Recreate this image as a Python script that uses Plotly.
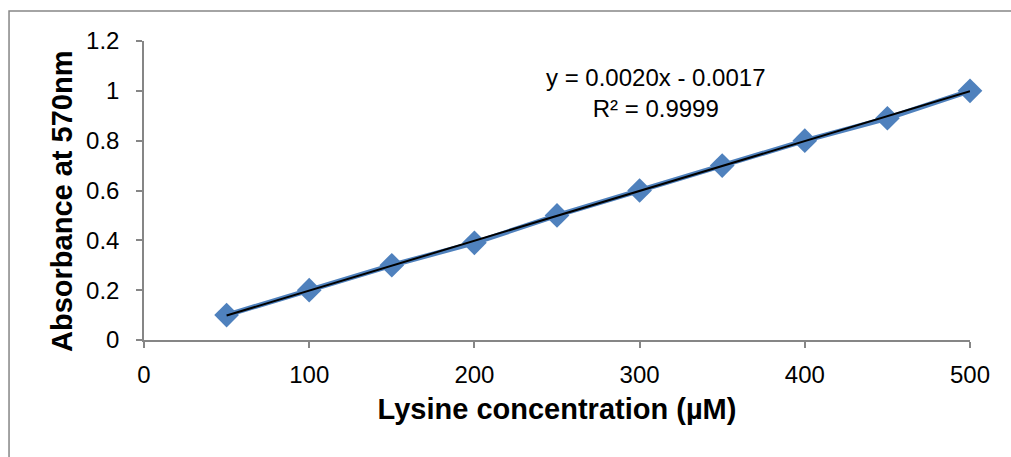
import plotly.graph_objects as go

# Lysine standard curve
concentration = [50, 100, 150, 200, 250, 300, 350, 400, 450, 500]
absorbance = [0.10, 0.20, 0.30, 0.39, 0.50, 0.60, 0.70, 0.80, 0.89, 1.00]

# Linear fit reported on the chart
slope = 0.0020
intercept = -0.0017
r_squared = 0.9999
fit_x = [min(concentration), max(concentration)]
fit_y = [slope * x + intercept for x in fit_x]

x_ticks = [0, 100, 200, 300, 400, 500]
y_ticks = [0, 0.2, 0.4, 0.6, 0.8, 1, 1.2]

FONT = "Liberation Sans, Arial, sans-serif"
AXIS_GREY = "#868686"
BLUE = "#4F81BD"

fig = go.Figure()
fig.add_trace(go.Scatter(
    x=concentration, y=absorbance, mode="lines+markers",
    line=dict(color=BLUE, width=5),
    marker=dict(symbol="diamond", size=19, color=BLUE),
    showlegend=False, cliponaxis=False,
))
fig.add_trace(go.Scatter(
    x=fit_x, y=fit_y, mode="lines",
    line=dict(color="black", width=2),
    showlegend=False, cliponaxis=False,
))

# trendline equation
fig.add_annotation(
    x=0.62, y=0.93, xref="paper", yref="paper",
    xanchor="center", yanchor="top",
    text=f"y = {slope:.4f}x - {abs(intercept):.4f}<br>R² = {r_squared:.4f}",
    showarrow=False, align="center",
    font=dict(family=FONT, size=24, color="black"),
)

# y-axis title, set as rotated text so it can sit slightly below the plot's middle
fig.add_annotation(
    x=-0.0993, y=0.465, xref="paper", yref="paper",
    xanchor="center", yanchor="middle", textangle=-90,
    text="<b>Absorbance at 570nm</b>", showarrow=False,
    font=dict(family=FONT, size=29, color="black"),
)

# outer chart frame
fig.add_shape(
    type="rect", xref="paper", yref="paper",
    x0=-0.1634, x1=1.2, y0=-0.6, y1=1.1,
    line=dict(color=AXIS_GREY, width=1.5), fillcolor="rgba(0,0,0,0)",
    layer="below",
)

fig.update_layout(
    width=1011, height=457,
    margin=dict(l=144, r=41, t=41, b=117),
    paper_bgcolor="white", plot_bgcolor="white",
    font=dict(family=FONT, color="black"),
)
fig.update_xaxes(
    range=[0, 500], tickvals=x_ticks,
    showgrid=False, zeroline=False,
    showline=True, linecolor=AXIS_GREY, linewidth=1.5,
    ticks="outside", ticklen=6, tickcolor=AXIS_GREY, tickwidth=1.5,
    tickfont=dict(family=FONT, size=24, color="black"),
    ticklabelstandoff=6,
    title=dict(text="<b>Lysine concentration (µM)</b>",
               font=dict(family=FONT, size=29, color="black"), standoff=12),
)
fig.update_yaxes(
    range=[0, 1.2], tickvals=y_ticks,
    showgrid=False, zeroline=False,
    showline=True, linecolor=AXIS_GREY, linewidth=1.5,
    ticks="outside", ticklen=6, tickcolor=AXIS_GREY, tickwidth=1.5,
    tickfont=dict(family=FONT, size=24, color="black"),
    ticklabelstandoff=12,
)

fig.write_html("out.html")
